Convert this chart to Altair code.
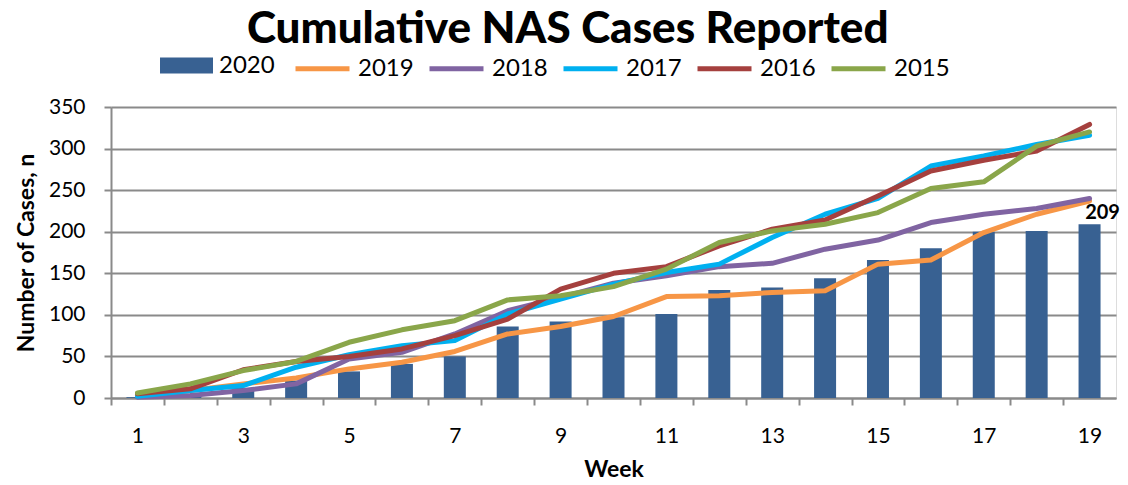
import altair as alt
import pandas as pd

weeks = list(range(1, 20))
series_names = ["2020", "2019", "2018", "2017", "2016", "2015"]
v2020 = [1, 4, 12, 21, 32, 41, 50, 86, 92, 97, 101, 130, 133, 144, 166, 180, 200, 201, 209]
v2019 = [3, 9, 17, 24, 35, 43, 56, 77, 86, 98, 122, 123, 127, 129, 161, 166, 199, 221, 237]
v2018 = [1, 3, 9, 17, 47, 55, 77, 105, 121, 138, 147, 158, 162, 179, 190, 211, 221, 228, 240]
v2017 = [2, 9, 15, 37, 52, 63, 69, 101, 119, 137, 151, 161, 193, 221, 240, 279, 291, 305, 316]
v2016 = [5, 11, 34, 44, 50, 59, 75, 95, 131, 150, 158, 183, 203, 214, 243, 273, 286, 297, 329]
v2015 = [6, 17, 33, 44, 67, 82, 93, 118, 123, 134, 155, 187, 201, 209, 223, 252, 260, 303, 320]
colors = ["#386192", "#F79646", "#8064A2", "#00B0F0", "#A5403E", "#8AA64A"]

all_vals = [v2020, v2019, v2018, v2017, v2016, v2015]
rows = []
for name, vals in zip(series_names, all_vals):
    for w, v in zip(weeks, vals):
        rows.append({"series": name, "week": w, "value": v})
df = pd.DataFrame(rows)

FONT = "Lato"
GRAY = "#8a8a8a"
W = 1005
HALF = W / 19 / 2

x_enc = alt.X(
    "week:O",
    scale=alt.Scale(paddingInner=0, paddingOuter=0),
    axis=alt.Axis(
        title="Week", titleFont=FONT, titleFontSize=23, titleFontWeight="bold",
        titleColor="black", titlePadding=12,
        labelAngle=0, labelFont=FONT, labelFontSize=21, labelColor="black",
        labelExpr="datum.value % 2 == 1 ? datum.label : ''",
        labelPadding=20, tickOffset=-HALF, labelOffset=HALF,
        tickSize=7, tickColor=GRAY, tickWidth=2,
        domainColor=GRAY, domainWidth=2,
    ),
)
y_enc = alt.Y(
    "value:Q",
    scale=alt.Scale(domain=[0, 350], nice=False),
    axis=alt.Axis(
        values=list(range(0, 351, 50)),
        title="Number of Cases, n", titleFont=FONT, titleFontSize=23,
        titleFontWeight="bold", titleColor="black", titlePadding=10,
        labelFont=FONT, labelFontSize=21, labelColor="black", labelPadding=19,
        tickSize=7, tickColor=GRAY, tickWidth=2,
        domainColor=GRAY, domainWidth=2,
        grid=True, gridColor=GRAY, gridWidth=1.8,
    ),
)

base = alt.Chart(df)

bars = base.transform_filter(alt.datum.series == "2020").mark_bar(size=22).encode(
    x=x_enc,
    y=y_enc,
    fill=alt.Fill(
        "series:N",
        scale=alt.Scale(domain=["2020"], range=[colors[0]]),
        legend=alt.Legend(
            title=None, orient="none", legendX=49, legendY=-68,
            symbolType="M-1,-0.3H1V0.3H-1Z", symbolSize=2809,
            symbolStrokeWidth=0, symbolOpacity=1,
            labelFont=FONT, labelFontSize=24, labelColor="black",
            labelOffset=6, padding=0,
        ),
    ),
)

lines = base.transform_filter(alt.datum.series != "2020").mark_line(
    strokeWidth=5, strokeCap="round", strokeJoin="round"
).encode(
    x=x_enc,
    y=y_enc,
    stroke=alt.Stroke(
        "series:N",
        scale=alt.Scale(domain=series_names[1:], range=colors[1:]),
        legend=alt.Legend(
            title=None, orient="none", direction="horizontal",
            legendX=182, legendY=-68,
            symbolType="stroke", symbolSize=2916, symbolStrokeWidth=5,
            labelFont=FONT, labelFontSize=24, labelColor="black",
            labelOffset=6, columnPadding=5, padding=0,
        ),
    ),
    order=alt.Order("week:O"),
)

label = base.transform_filter(
    (alt.datum.series == "2020") & (alt.datum.week == weeks[-1])
).mark_text(
    font=FONT, fontSize=20, fontWeight="bold", color="black",
    align="center", baseline="bottom", dx=13, dy=-1,
).encode(x=x_enc, y=y_enc, text=alt.Text("value:Q"))

chart = alt.layer(bars, lines, label).properties(
    width=W, height=291,
    title=alt.TitleParams(
        "Cumulative NAS Cases Reported", font=FONT, fontSize=44,
        fontWeight=900, color="black", anchor="middle", frame="bounds",
        offset=-13,
    ),
).configure_view(stroke=None).configure(padding={"left": 7, "top": 0, "right": 0, "bottom": 0})

chart.save("out.html", embed_options={"renderer": "svg", "actions": False})
